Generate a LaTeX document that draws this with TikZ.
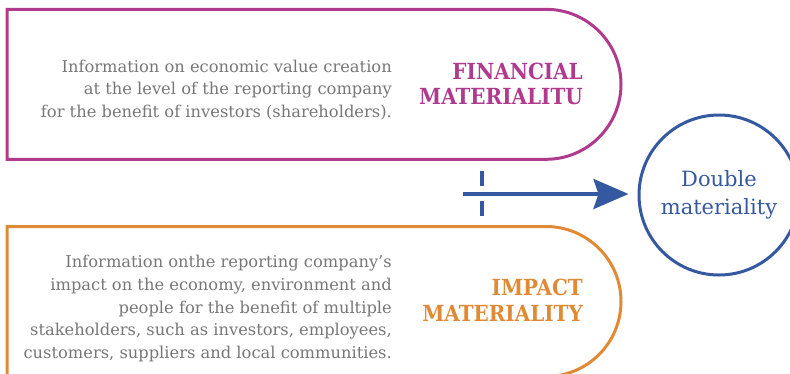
\documentclass[tikz,border=0pt]{standalone}
\usepackage{fontspec}
\setmainfont{DejaVu Serif}
\newfontfamily\condfont{DejaVu Serif Condensed}
\usetikzlibrary{shapes.misc, arrows.meta, positioning}

\definecolor{finpink}{HTML}{B03A8E}
\definecolor{impactorange}{HTML}{E08A36}
\definecolor{dmblue}{HTML}{3459A0}
\definecolor{bodygray}{HTML}{777777}

\begin{document}
\begin{tikzpicture}[
    x=1pt, y=-1pt,
    box/.style={rounded rectangle, rounded rectangle left arc=none, draw,
        line width=3pt, minimum width=614pt, minimum height=150pt, inner sep=0pt},
    body/.style={align=right, text=bodygray, anchor=east, inner sep=0pt,
        font=\fontsize{16.3}{22.6}\selectfont},
    heading/.style={align=right, anchor=east, inner sep=0pt,
        font=\condfont\fontsize{22.2}{25.7}\selectfont\bfseries},
    dm/.style={circle, draw=dmblue, line width=3pt, minimum size=160pt, inner sep=0pt,
        align=center, text=dmblue, font=\fontsize{21}{28}\selectfont}
]
\useasboundingbox (0,0) rectangle (790,373);

% the two materiality boxes
\node[box, draw=finpink] (fin) at (314,84.3) {};
\node[box, draw=impactorange] (imp) at (314,301.5) {};

% their texts
\node[body] (finText) at (392,90) {Information on economic value creation\\
    at the level of the reporting company\\
    for the benefit of investors (shareholders).};
\node[heading, text=finpink] (finHead) at (583,84) {FINANCIAL\\MATERIALITU};

\node[body] (impText) at (392,308.5) {Information onthe reporting company’s\\
    impact on the economy, environment and\\
    people for the benefit of multiple\\
    stakeholders, such as investors, employees,\\
    customers, suppliers and local communities.};
\node[heading, text=impactorange] (impHead) at (583,300) {IMPACT\\MATERIALITY};

% the result
\node[dm] (double) at (719,195) {Double\\materiality};

% arrow and the dashed tick across it
\coordinate (src) at (463,194);
\coordinate (tickTop) at (481.5,171);
\coordinate (tickBot) at (481.5,217);
\draw[dmblue, line width=4pt, dash pattern=on 15pt off 15pt] (tickTop) -- (tickBot);
\draw[dmblue, line width=4pt, -{Stealth[length=35pt, width=30pt, inset=5pt]},
    shorten >=9pt] (src) -- (src -| double.west);
\end{tikzpicture}
\end{document}
